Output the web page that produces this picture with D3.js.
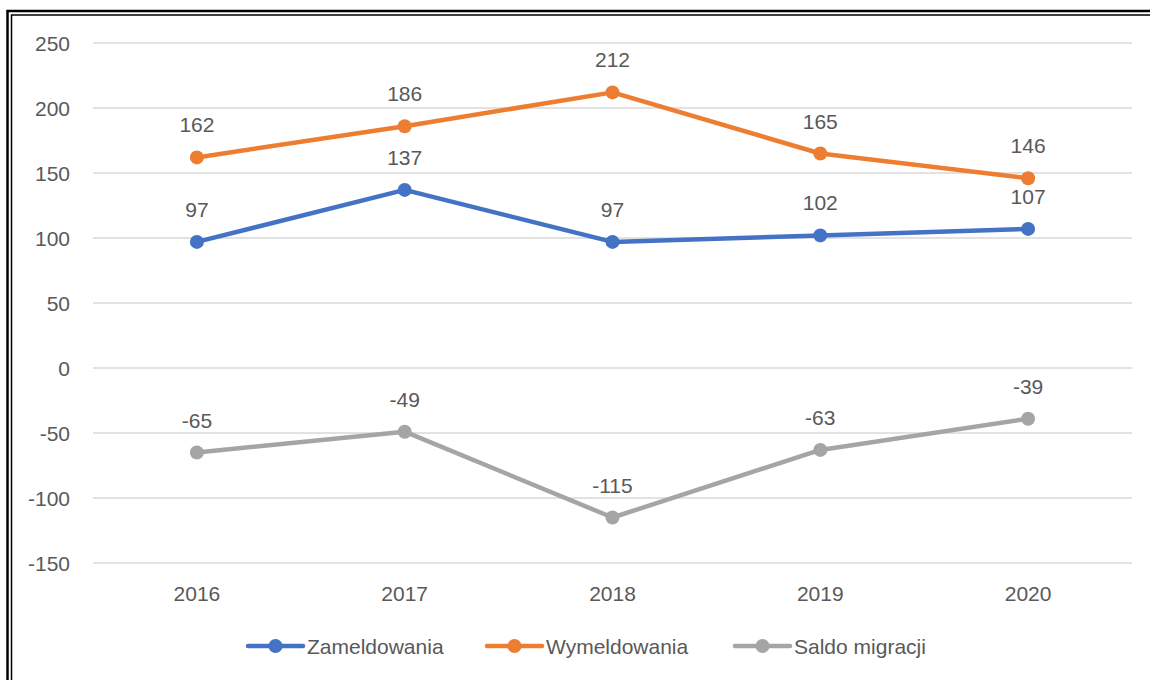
<!DOCTYPE html>
<html>
<head>
<meta charset="utf-8">
<script src="https://cdn.jsdelivr.net/npm/d3@7"></script>
<style>
  html, body { margin: 0; padding: 0; background: #fff; }
  svg { display: block; font-family: "Liberation Sans", Arial, sans-serif; }
</style>
</head>
<body>
<svg width="1150" height="680"></svg>
<script>
// data
const years = ['2016', '2017', '2018', '2019', '2020'];
const zameldowania = [97, 137, 97, 102, 107];
const wymeldowania = [162, 186, 212, 165, 146];
const saldo = [-65, -49, -115, -63, -39];
const yTicks = [-150, -100, -50, 0, 50, 100, 150, 200, 250];

const series = [
    { name: 'Zameldowania', values: zameldowania, color: '#4472C4' },
    { name: 'Wymeldowania', values: wymeldowania, color: '#ED7D31' },
    { name: 'Saldo migracji', values: saldo, color: '#A5A5A5' },
];

const svg = d3.select('svg');
const textColor = '#595959';

// double frame around the chart
svg.append('rect').attr('x', 7.5).attr('y', 11).attr('width', 1160).attr('height', 700)
    .attr('fill', 'none').attr('stroke', '#000').attr('stroke-width', 2.5);
svg.append('rect').attr('x', 11.5).attr('y', 15).attr('width', 1160).attr('height', 700)
    .attr('fill', 'none').attr('stroke', '#000').attr('stroke-width', 1.5);

let x = d3.scaleBand().domain(years).range([93, 1132]);
let y = d3.scaleLinear().domain([-150, 250]).range([563, 43]);

// gridlines
svg.append('g').selectAll('line')
    .data(yTicks)
    .join('line')
    .attr('x1', 93).attr('x2', 1132)
    .attr('y1', d => y(d)).attr('y2', d => y(d))
    .attr('stroke', '#d9d9d9').attr('stroke-width', 1.5);

// y axis labels
svg.append('g').selectAll('text')
    .data(yTicks)
    .join('text')
    .attr('x', 70).attr('y', d => y(d) + 7.5)
    .attr('text-anchor', 'end')
    .attr('font-size', 21).attr('fill', textColor)
    .text(d => d);

// x axis labels
svg.append('g').selectAll('text')
    .data(years)
    .join('text')
    .attr('x', d => x(d) + x.bandwidth() / 2).attr('y', 601)
    .attr('text-anchor', 'middle')
    .attr('font-size', 21).attr('fill', textColor)
    .text(d => d);

const cx = (i) => x(years[i]) + x.bandwidth() / 2;
let line = d3.line().x((d, i) => cx(i)).y(d => y(d));

series.forEach((s) => {
    const g = svg.append('g');
    g.append('path')
        .attr('d', line(s.values))
        .attr('fill', 'none').attr('stroke', s.color)
        .attr('stroke-width', 4.5).attr('stroke-linejoin', 'round');
    g.selectAll('circle')
        .data(s.values)
        .join('circle')
        .attr('cx', (d, i) => cx(i)).attr('cy', d => y(d))
        .attr('r', 7).attr('fill', s.color);
    g.selectAll('text')
        .data(s.values)
        .join('text')
        .attr('x', (d, i) => cx(i))
        .attr('y', d => y(d) - 25)
        .attr('text-anchor', 'middle')
        .attr('font-size', 21).attr('fill', textColor)
        .text(d => d);
});

// legend
const legendX = [248, 487, 735];
const legend = svg.append('g');
series.forEach((s, i) => {
    const lg = legend.append('g').attr('transform', `translate(${legendX[i]},646)`);
    lg.append('line').attr('x1', 0).attr('x2', 55).attr('y1', 0).attr('y2', 0)
        .attr('stroke', s.color).attr('stroke-width', 4.5).attr('stroke-linecap', 'round');
    lg.append('circle').attr('cx', 27.5).attr('cy', 0).attr('r', 7).attr('fill', s.color);
    lg.append('text').attr('x', 59).attr('y', 7.5)
        .attr('font-size', 21).attr('fill', textColor)
        .text(s.name);
});
</script>
</body>
</html>
